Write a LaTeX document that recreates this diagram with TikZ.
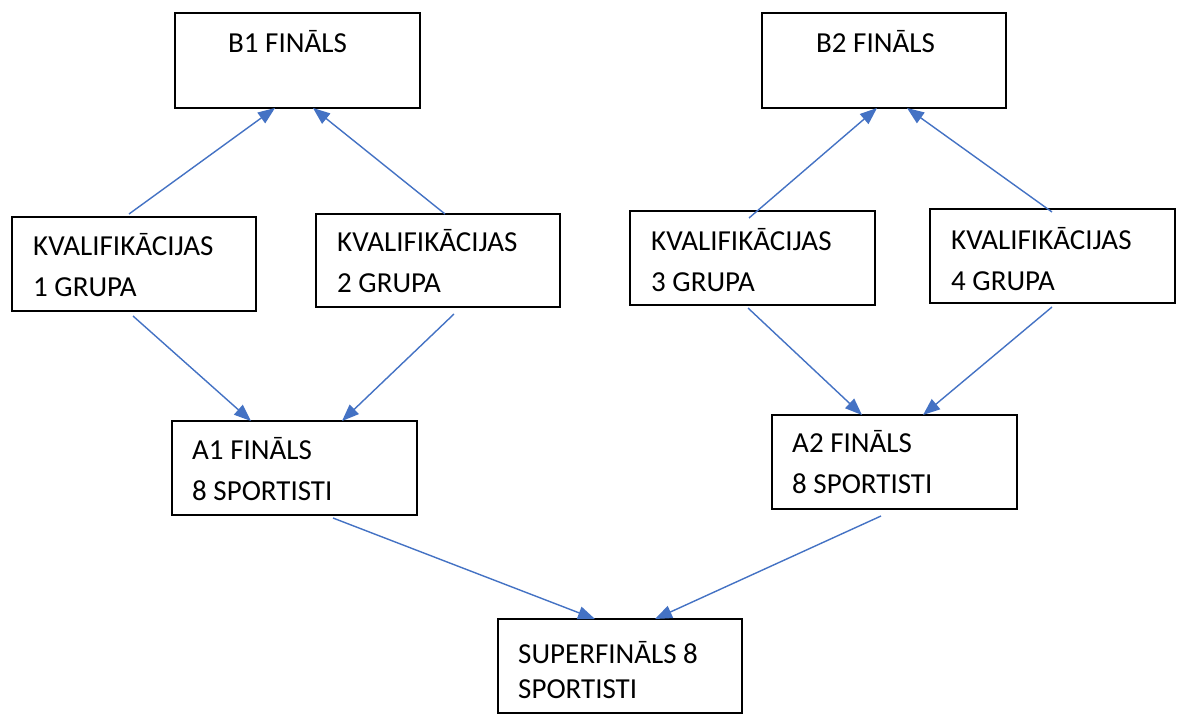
\documentclass[tikz,border=0pt]{standalone}
\usepackage{fontspec}
\setmainfont{Carlito}
\usetikzlibrary{arrows.meta}
\definecolor{arrowblue}{HTML}{4472C4}
\tikzset{
  box/.style={draw=black, line width=1.5pt, fill=white, rectangle, inner sep=0pt, anchor=north west},
  label/.style={inner sep=0pt, anchor=base west, align=left, font=\fontsize{29}{40.5}\selectfont},
  labelsf/.style={label, font=\fontsize{29}{35}\selectfont},
  conn/.style={draw=arrowblue, line width=1.4pt, -{Triangle[length=17pt,width=13pt]}}
}
\begin{document}
\begin{tikzpicture}[x=1pt,y=-1pt]
\useasboundingbox (0,0) rectangle (1177,715);
\fill[white] (0,0) rectangle (1177,715);
% boxes
\node[box, minimum width=245pt, minimum height=95pt] (b1) at (174,12) {};
\node[box, minimum width=244pt, minimum height=95pt] (b2) at (761,12) {};
\node[box, minimum width=244pt, minimum height=94pt] (k1) at (11,216) {};
\node[box, minimum width=244pt, minimum height=93pt] (k2) at (315,213) {};
\node[box, minimum width=245pt, minimum height=94pt] (k3) at (629,210) {};
\node[box, minimum width=245pt, minimum height=94pt] (k4) at (929,208) {};
\node[box, minimum width=245pt, minimum height=94pt] (a1) at (171,420) {};
\node[box, minimum width=245pt, minimum height=94pt] (a2) at (771,414) {};
\node[box, minimum width=244pt, minimum height=94pt] (sf) at (497,618) {};
% texts (base anchor = last line)
\node[label] (b1t) at (228,52) {B1 FINĀLS};
\node[label] (b2t) at (816,52) {B2 FINĀLS};
\node[label] (k1t) at (33,296) {KVALIFIKĀCIJAS\\1 GRUPA};
\node[label] (k2t) at (337,292) {KVALIFIKĀCIJAS\\2 GRUPA};
\node[label] (k3t) at (651,291) {KVALIFIKĀCIJAS\\3 GRUPA};
\node[label] (k4t) at (951,290) {KVALIFIKĀCIJAS\\4 GRUPA};
\node[label] (a1t) at (192,500) {A1 FINĀLS\\8 SPORTISTI};
\node[label] (a2t) at (792,493) {A2 FINĀLS\\8 SPORTISTI};
\node[labelsf] (sft) at (518,698) {SUPERFINĀLS 8\\SPORTISTI};
% connector end points
\coordinate (k1u) at (129,214);
\coordinate (k2u) at (445,214);
\coordinate (k3u) at (749,218);
\coordinate (k4u) at (1052,212);
\coordinate (b1l) at (275,108);
\coordinate (b1r) at (313,108);
\coordinate (b2l) at (877,108);
\coordinate (b2r) at (907,108);
\coordinate (k1d) at (133,316);
\coordinate (k2d) at (454,314);
\coordinate (k3d) at (748,308);
\coordinate (k4d) at (1052,307);
\coordinate (a1l) at (251,421);
\coordinate (a1r) at (342,421);
\coordinate (a2l) at (862,415);
\coordinate (a2r) at (923,415);
\coordinate (a1d) at (333,518);
\coordinate (a2d) at (881,516);
\coordinate (sfl) at (595,619);
\coordinate (sfr) at (655,619);
% connectors
\draw[conn] (k1u) -- (b1l);
\draw[conn] (k2u) -- (b1r);
\draw[conn] (k3u) -- (b2l);
\draw[conn] (k4u) -- (b2r);
\draw[conn] (k1d) -- (a1l);
\draw[conn] (k2d) -- (a1r);
\draw[conn] (k3d) -- (a2l);
\draw[conn] (k4d) -- (a2r);
\draw[conn] (a1d) -- (sfl);
\draw[conn] (a2d) -- (sfr);
\end{tikzpicture}
\end{document}
